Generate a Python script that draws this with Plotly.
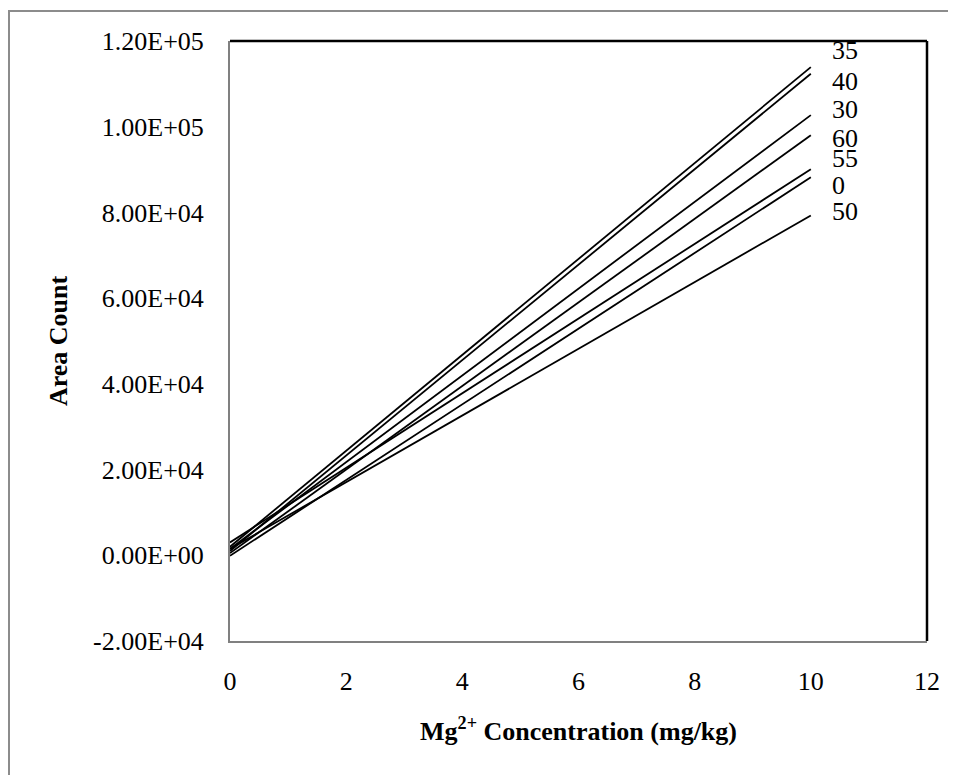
import plotly.graph_objects as go

# Temperature series (labels) with fitted calibration lines: y = intercept + slope * x
series_labels = ["35", "40", "30", "60", "55", "0", "50"]
intercepts = [2000, 1000, 1500, 500, 3000, -100, 1500]
end_values = [113900, 112350, 102700, 98000, 90060, 88200, 79300]  # value at x = 10
x_points = [0, 10]
label_y = [117700, 110600, 104100, 97300, 92600, 86300, 80200]

x_ticks = [0, 2, 4, 6, 8, 10, 12]
y_ticks = [-20000, 0, 20000, 40000, 60000, 80000, 100000, 120000]
y_ticktext = ["-2.00E+04", "0.00E+00", "2.00E+04", "4.00E+04", "6.00E+04",
              "8.00E+04", "1.00E+05", "1.20E+05"]

FONT = "Liberation Serif, Times New Roman, serif"
FS = 26

fig = go.Figure()
for lab, b, e in zip(series_labels, intercepts, end_values):
    fig.add_trace(go.Scatter(
        x=x_points, y=[b, e], mode="lines", name=lab,
        line=dict(color="black", width=1.8), showlegend=False,
        hoverinfo="skip"))

for lab, ly in zip(series_labels, label_y):
    fig.add_annotation(x=10.33, y=ly, xref="x", yref="y", text=lab,
                       showarrow=False, xanchor="left", yanchor="middle",
                       font=dict(family=FONT, size=FS, color="black"))

W, H = 956, 775
ml, mr, mt, mb = 222, 37, 33, 142
pw, ph = W - ml - mr, H - mt - mb

fig.update_layout(
    width=W, height=H,
    margin=dict(l=ml, r=mr, t=mt, b=mb),
    paper_bgcolor="white", plot_bgcolor="white",
    font=dict(family=FONT, size=FS, color="black"),
    xaxis=dict(range=[0, 12], tickvals=x_ticks, showgrid=False, zeroline=False,
               showline=True, linecolor="#808080", linewidth=2,
               ticks="", ticklabelstandoff=16,
               title=dict(text="<b>Mg<sup>2+</sup> Concentration (mg/kg)</b>",
                          font=dict(family=FONT, size=FS), standoff=27)),
    yaxis=dict(range=[-20000, 120000], tickvals=y_ticks, ticktext=y_ticktext,
               showgrid=False, zeroline=False,
               showline=True, linecolor="#808080", linewidth=2,
               ticks="", ticklabelstandoff=19,
               title=dict(text="<b>Area Count</b>",
                          font=dict(family=FONT, size=FS), standoff=18)),
)

# top and right frame lines (black)
fig.add_shape(type="line", xref="paper", yref="paper", x0=0, x1=1, y0=1, y1=1,
              line=dict(color="black", width=2.5))
fig.add_shape(type="line", xref="paper", yref="paper", x0=1, x1=1, y0=0, y1=1,
              line=dict(color="black", width=2.5))
# outer chart border (gray)
fig.add_shape(type="rect", xref="paper", yref="paper",
              x0=(1 - ml) / pw, x1=(W + 10 - ml) / pw,
              y0=-(H + 10 - mt - ph) / ph, y1=1 + (mt - 3) / ph,
              line=dict(color="#8c8c8c", width=2), layer="below")

fig.write_html("out.html")
